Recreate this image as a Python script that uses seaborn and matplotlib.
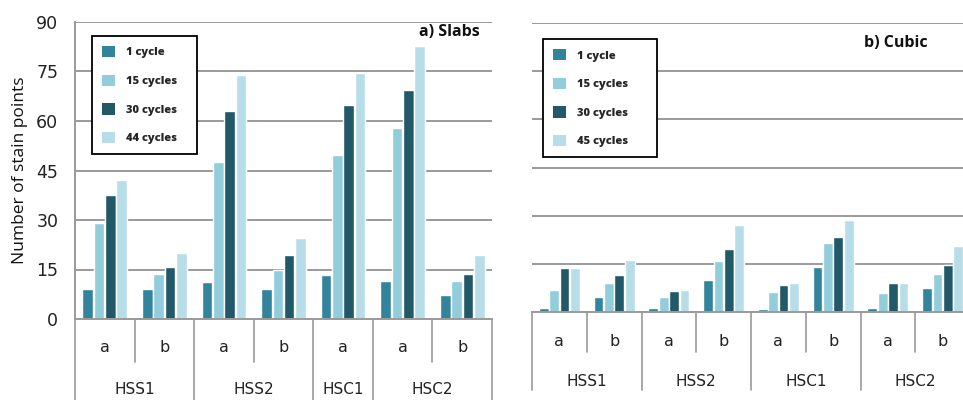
import numpy as np
import matplotlib.pyplot as plt
import matplotlib.transforms as mtransforms
import seaborn as sns
import pandas as pd

# slabs panel
slab_slots = ["HSS1 a", "HSS1 b", "HSS2 a", "HSS2 b", "HSC1 a", "HSC2 a", "HSC2 b"]
slab_sub = ["a", "b", "a", "b", "a", "a", "b"]
slab_groups = ["HSS1", "HSS2", "HSC1", "HSC2"]
slab_cycles = ["1 cycle", "15 cycles", "30 cycles", "44 cycles"]
slab_1 = [9.0, 9.0, 11.2, 9.0, 13.2, 11.5, 7.2]
slab_15 = [29.1, 13.7, 47.6, 15.0, 49.6, 57.8, 11.5]
slab_30 = [37.7, 15.7, 63.0, 19.5, 64.8, 69.4, 13.5]
slab_44 = [42.0, 20.0, 74.0, 24.5, 74.5, 82.6, 19.5]

# cubic panel
cubic_slots = ["HSS1 a", "HSS1 b", "HSS2 a", "HSS2 b", "HSC1 a", "HSC1 b", "HSC2 a", "HSC2 b"]
cubic_sub = ["a", "b", "a", "b", "a", "b", "a", "b"]
cubic_groups = ["HSS1", "HSS2", "HSC1", "HSC2"]
cubic_cycles = ["1 cycle", "15 cycles", "30 cycles", "45 cycles"]
cubic_1 = [1.4, 4.7, 1.4, 10.0, 0.9, 13.9, 1.4, 7.4]
cubic_15 = [6.8, 9.0, 4.7, 16.0, 6.3, 21.6, 5.8, 11.9]
cubic_30 = [13.6, 11.6, 6.5, 19.5, 8.4, 23.5, 9.0, 14.7]
cubic_45 = [13.6, 16.1, 6.8, 27.1, 9.0, 28.7, 9.0, 20.5]

yticks = [0, 15, 30, 45, 60, 75, 90]
colors = ["#31849b", "#92cddc", "#215968", "#b7dee8"]
grid_c = "#9a9a9a"


def long_table(slots, cycles, series):
    rows = []
    for cyc, vals in zip(cycles, series):
        for s, v in zip(slots, vals):
            rows.append({"slot": s, "cycle": cyc, "value": v})
    return pd.DataFrame(rows)


def draw_panel(ax, fig, slots, sub, groups, cycles, series, title, title_xy, leg_box,
               base_px, sub_y, grp_y, sub_len, grp_len):
    df = long_table(slots, cycles, series)
    sns.barplot(data=df, x="slot", y="value", hue="cycle", order=slots, hue_order=cycles,
                palette=colors, width=0.76, gap=0.06, saturation=1, ax=ax)
    ax.set_xticks([])
    ax.set_xlabel("")
    ax.set_ylabel("")
    ax.set_ylim(0, 90)
    ax.set_yticks(yticks)
    ax.yaxis.grid(True, color=grid_c, linewidth=1.4)
    ax.set_axisbelow(True)
    for sp in ["top", "right"]:
        ax.spines[sp].set_visible(False)
    ax.spines["bottom"].set_color(grid_c)
    ax.spines["bottom"].set_linewidth(1.4)

    # category labels under the axis
    trans = mtransforms.blended_transform_factory(ax.transData, fig.transFigure)
    fy = lambda px: 1 - px / 400.0
    for i, s in enumerate(sub):
        ax.text(i, fy(sub_y), s, transform=trans, ha="center", va="center",
                fontsize=11.5, family="DejaVu Sans", color="#222222")
    # group spans and dividers
    grp_of = [s.split()[0] for s in slots]
    edges = [-0.5]
    for i in range(1, len(slots)):
        if grp_of[i] == grp_of[i - 1]:
            ax.plot([i - 0.5, i - 0.5], [fy(base_px), fy(base_px + sub_len)], transform=trans,
                    color=grid_c, lw=1.2, clip_on=False)
        else:
            edges.append(i - 0.5)
    edges.append(len(slots) - 0.5)
    for e in edges:
        ax.plot([e, e], [fy(base_px), fy(base_px + grp_len)], transform=trans,
                color=grid_c, lw=1.2, clip_on=False)
    for g, a, b in zip(groups, edges[:-1], edges[1:]):
        ax.text((a + b) / 2, fy(grp_y), g, transform=trans, ha="center", va="center",
                fontsize=11, family="DejaVu Sans", color="#222222")

    ax.set_xlim(-0.5, len(slots) - 0.5)

    leg = ax.legend(loc="upper left", bbox_to_anchor=leg_box, mode="expand", borderaxespad=0,
                    fancybox=False, framealpha=1, edgecolor="black", handlelength=1.2,
                    handleheight=1.2, labelspacing=1.45, borderpad=0.9, handletextpad=1.0,
                    prop={"size": 8, "weight": "heavy", "family": "Open Sans"})
    leg.get_frame().set_linewidth(1.3)
    for h in leg.legend_handles:
        h.set_edgecolor("none")

    ax.text(title_xy[0], title_xy[1], title, transform=ax.transAxes, ha="right", va="center",
            fontsize=11.5, fontweight="bold", family="Open Sans", color="#111111")


sns.set_style("white")
plt.rcParams["font.family"] = ["Open Sans", "DejaVu Sans"]

fig = plt.figure(figsize=(9.63, 4.0), dpi=100)
ax1 = fig.add_axes([75 / 963, 81 / 400, 417 / 963, 297 / 400])
ax2 = fig.add_axes([532 / 963, 88 / 400, 438 / 963, 289 / 400])

draw_panel(ax1, fig, slab_slots, slab_sub, slab_groups, slab_cycles,
           [slab_1, slab_15, slab_30, slab_44], "a) Slabs", (0.97, 1 - (32 - 22) / 297),
           (17 / 417, 1 - 17 / 297, 105 / 417, 0.01), 319, 348, 390, 43, 81)
draw_panel(ax2, fig, cubic_slots, cubic_sub, cubic_groups, cubic_cycles,
           [cubic_1, cubic_15, cubic_30, cubic_45], "b) Cubic", ((928 - 532) / 438, 1 - (43 - 23) / 289),
           (11 / 438, 1 - 19 / 289, 114 / 438, 0.01), 312, 342, 381, 40, 78)

ax1.spines["left"].set_color(grid_c)
ax1.spines["left"].set_linewidth(1.4)
ax1.tick_params(axis="y", length=6, color=grid_c, width=1.4, labelsize=12.5, pad=6,
                labelcolor="#222222")
for t in ax1.get_yticklabels():
    t.set_family("DejaVu Sans")
ax1.set_ylabel("Number of stain points", fontsize=12.5, color="#111111", labelpad=6)

ax2.spines["left"].set_visible(False)
ax2.tick_params(axis="y", length=0, labelleft=False)

fig.savefig("out.png", dpi=100)
